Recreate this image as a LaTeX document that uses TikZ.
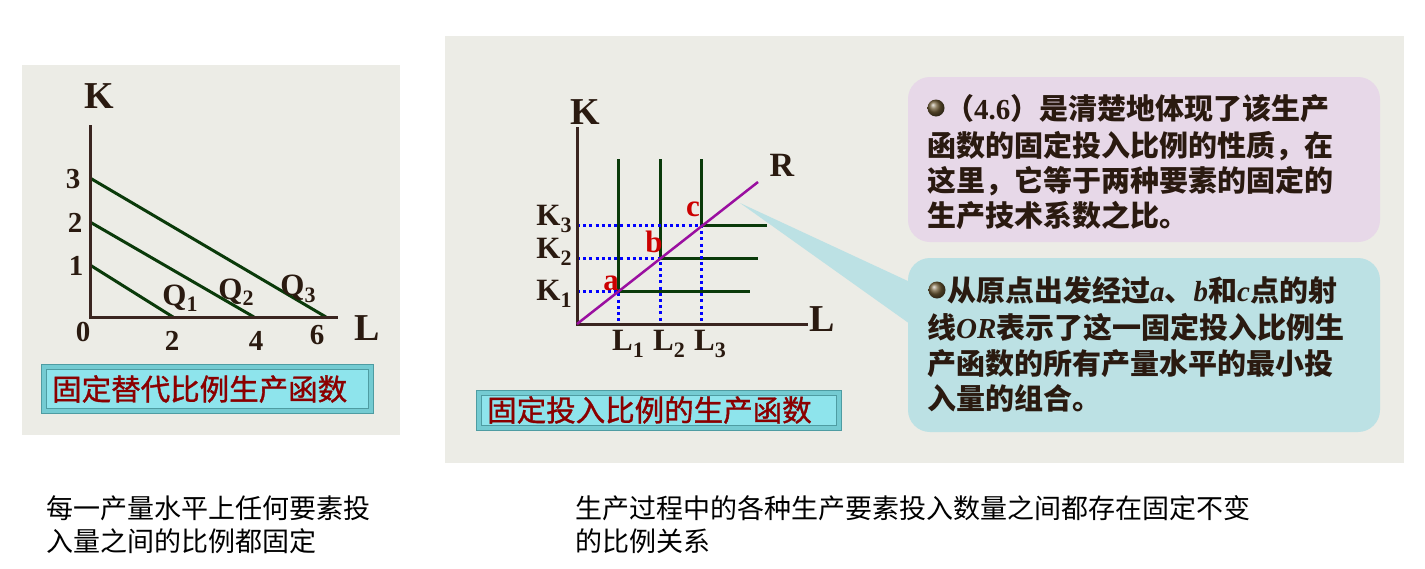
\documentclass[tikz,border=0pt]{standalone}
\usepackage{fontspec}
\setmainfont{Liberation Serif}
\newfontfamily\cjk{Noto Sans CJK SC}
\newfontfamily\cjkmed[FakeBold=1.2]{Noto Sans CJK SC}
\definecolor{panelbg}{HTML}{ECECE6}
\definecolor{axisc}{HTML}{3A2520}
\definecolor{lbl}{HTML}{2A1A10}
\definecolor{grn}{HTML}{0A3A0A}
\definecolor{purp}{HTML}{9A0FA0}
\definecolor{dotb}{HTML}{0000FF}
\definecolor{ptred}{HTML}{CC0000}
\definecolor{ttlred}{HTML}{8B0000}
\definecolor{ttlfill}{HTML}{8EE4EC}
\definecolor{ttlframe}{HTML}{74CBD2}
\definecolor{ttledge}{HTML}{4E9CA2}
\definecolor{pinkbox}{HTML}{E7D8E8}
\definecolor{cyanbox}{HTML}{BCE1E4}
\definecolor{ballc}{HTML}{6E5A35}
\newcommand\sbs[1]{\raisebox{-0.45ex}{\fontsize{22}{22}\selectfont #1}}
\newcommand\lt[1]{{\rmfamily\itshape #1}}
\newcommand\dg[1]{{\rmfamily #1}}
\tikzset{
  axisline/.style={draw=axisc, line width=3pt},
  isoq/.style={draw=grn, line width=3pt},
  rayline/.style={draw=purp, line width=2.5pt},
  guide/.style={draw=dotb, line width=3pt, dash pattern=on 3pt off 3.2pt},
  axlbl/.style={text=lbl, font=\bfseries\fontsize{38}{38}\selectfont, inner sep=0},
  numlbl/.style={text=lbl, font=\bfseries\fontsize{29}{29}\selectfont, inner sep=0},
  sublbl/.style={text=lbl, font=\bfseries\fontsize{31}{31}\selectfont, inner sep=0},
  ptlbl/.style={text=ptred, font=\bfseries\fontsize{31}{31}\selectfont, inner sep=0},
  boxline/.style={anchor=base west, inner sep=0, text=lbl, font=\cjk\bfseries\fontsize{29}{29}\selectfont},
  captext/.style={anchor=base west, inner sep=0, text=black, font=\cjk\fontsize{27}{27}\selectfont},
  ttltext/.style={anchor=west, inner sep=0, text=ttlred, font=\cjkmed\fontsize{29.5}{29.5}\selectfont},
  ttlouter/.style={fill=ttlframe, draw=ttledge, line width=1pt},
  ttlinner/.style={fill=ttlfill, draw=ttledge, line width=1pt},
  bubble/.style={rounded corners=22pt},
  bulletball/.style={ball color=ballc}
}
\begin{document}
\begin{tikzpicture}[x=1pt,y=-1pt]
\fill[white] (0,0) rectangle (1425,568);
\useasboundingbox (0,0) rectangle (1425,568);
% ---------- left panel ----------
\fill[panelbg] (22,65) rectangle (400,435);
\coordinate (O1) at (90,317);
\coordinate (Ktop1) at (90,125);
\coordinate (Lend1) at (338,317);
\coordinate (k3) at (90,178); \coordinate (l6) at (326,317);
\coordinate (k2) at (90,222); \coordinate (l4) at (254,317);
\coordinate (k1) at (90,265); \coordinate (l2) at (173,317);
\draw[isoq] (k3) -- (l6);
\draw[isoq] (k2) -- (l4);
\draw[isoq] (k1) -- (l2);
\draw[axisline] (Ktop1) -- (O1) -- (Lend1);
\node[axlbl] (K1lab) at (99,96) {K};
\node[axlbl] (L1lab) at (367,328) {L};
\node[numlbl] (n3) at (73,179) {3};
\node[numlbl] (n2) at (75,223) {2};
\node[numlbl] (n1) at (76,266) {1};
\node[numlbl] (n0) at (83,332) {0};
\node[numlbl] (x2) at (172,341) {2};
\node[numlbl] (x4) at (256,341) {4};
\node[numlbl] (x6) at (317,335) {6};
\node[sublbl] (q1) at (180,298) {Q\sbs{1}};
\node[sublbl] (q2) at (236,292) {Q\sbs{2}};
\node[sublbl] (q3) at (298,289) {Q\sbs{3}};
\draw[ttlouter] (41,364) rectangle (373,413);
\draw[ttlinner] (46,369) rectangle (368,408);
\node[ttltext] (t1) at (52,389) {固定替代比例生产函数};
% ---------- right panel ----------
\fill[panelbg] (445,36) rectangle (1404,463);
\coordinate (O2) at (577,324);
\coordinate (Ktop2) at (577,127);
\coordinate (Lend2) at (808,324);
\coordinate (pa) at (618,291);
\coordinate (pb) at (660,258);
\coordinate (pc) at (701,225);
\coordinate (Rend) at (758,182);
\coordinate (va) at (618,159); \coordinate (vb) at (660,159); \coordinate (vc) at (701,159);
\coordinate (ha) at (750,291); \coordinate (hb) at (758,258); \coordinate (hc) at (767,225);
\coordinate (ka) at (577,291); \coordinate (kb) at (577,258); \coordinate (kc) at (577,225);
\coordinate (la) at (618,324); \coordinate (lb) at (660,324); \coordinate (lc) at (701,324);
\draw[isoq] (va) -- (pa) -- (ha);
\draw[isoq] (vb) -- (pb) -- (hb);
\draw[isoq] (vc) -- (pc) -- (hc);
\draw[guide] (ka) -- (pa) -- (la);
\draw[guide] (kb) -- (pb) -- (lb);
\draw[guide] (kc) -- (pc) -- (lc);
\draw[axisline] (Ktop2) -- (O2) -- (Lend2);
\draw[rayline] (O2) -- (Rend);
\node[axlbl] (K2lab) at (585,112) {K};
\node[axlbl] (L2lab) at (822,319) {L};
\node[axlbl, font=\bfseries\fontsize{34}{34}\selectfont] (Rlab) at (782,165) {R};
\node[sublbl] (kk3) at (554,219) {K\sbs{3}};
\node[sublbl] (kk2) at (554,252) {K\sbs{2}};
\node[sublbl] (kk1) at (554,294) {K\sbs{1}};
\node[sublbl] (ll1) at (628,344) {L\sbs{1}};
\node[sublbl] (ll2) at (669,344) {L\sbs{2}};
\node[sublbl] (ll3) at (710,344) {L\sbs{3}};
\node[ptlbl] (alab) at (611,283) {a};
\node[ptlbl] (blab) at (654,242) {b};
\node[ptlbl] (clab) at (693,209) {c};
\draw[ttlouter] (476,390) rectangle (841,430);
\draw[ttlinner] (481,395) rectangle (836,425);
\node[ttltext] (t2) at (487,410) {固定投入比例的生产函数};
% callout pointer
\coordinate (tip) at (740,203);
\coordinate (pu) at (910,282);
\coordinate (pl) at (910,324);
\fill[cyanbox] (tip) -- (pu) -- (pl) -- cycle;
% bubbles
\fill[pinkbox, bubble] (908,77) rectangle (1380,242);
\fill[cyanbox, bubble] (908,258) rectangle (1380,432);
\shade[bulletball] (936,108) circle (8.5);
\node[boxline] (u1) at (945,119) {（\dg{4.6}）是清楚地体现了该生产};
\node[boxline] (u2) at (927,156) {函数的固定投入比例的性质，在};
\node[boxline] (u3) at (927,191) {这里，它等于两种要素的固定的};
\node[boxline] (u4) at (927,226) {生产技术系数之比。};
\shade[bulletball] (937,290) circle (8.5);
\node[boxline] (w1) at (947,301) {从原点出发经过\lt{a}、\lt{b}和\lt{c}点的射};
\node[boxline] (w2) at (927,338) {线\lt{OR}表示了这一固定投入比例生};
\node[boxline] (w3) at (927,374) {产函数的所有产量水平的最小投};
\node[boxline] (w4) at (927,409) {入量的组合。};
% ---------- captions ----------
\node[captext] (c1) at (46,518) {每一产量水平上任何要素投};
\node[captext] (c2) at (46,551) {入量之间的比例都固定};
\node[captext] (c3) at (575,518) {生产过程中的各种生产要素投入数量之间都存在固定不变};
\node[captext] (c4) at (575,551) {的比例关系};
\end{tikzpicture}
\end{document}
